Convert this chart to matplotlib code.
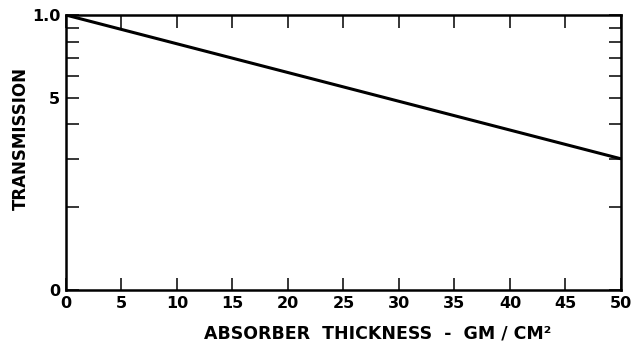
import matplotlib
matplotlib.use("Agg")
import matplotlib.pyplot as plt
from matplotlib.ticker import NullLocator

# Data (straight line on a log transmission axis)
thickness = [0, 50]
transmission = [1.0, 0.3]

x_ticks = [0, 5, 10, 15, 20, 25, 30, 35, 40, 45, 50]
x_labels = ["0", "5", "10", "15", "20", "25", "30", "35", "40", "45", "50"]
y_ticks = [0.1, 0.2, 0.3, 0.4, 0.5, 0.6, 0.7, 0.8, 0.9, 1.0]
y_labels = ["0", "", "", "", "5", "", "", "", "", "1.0"]

plt.rcParams['font.family'] = ['DejaVu Sans']
plt.rcParams['font.weight'] = 'bold'

fig = plt.figure(figsize=(6.33, 3.49), dpi=100)
ax = fig.add_axes([0.104, 0.169, 0.877, 0.788])

ax.plot(thickness, transmission, color='black', linewidth=2.2, solid_capstyle='butt')

ax.set_yscale('log')
ax.set_xlim(0, 50)
ax.set_ylim(0.1, 1.0)

ax.set_xticks(x_ticks)
ax.set_xticklabels(x_labels, fontsize=11.5, fontweight='bold')
ax.set_yticks(y_ticks)
ax.set_yticklabels(y_labels, fontsize=11.5, fontweight='bold')
ax.yaxis.set_minor_locator(NullLocator())

ax.tick_params(axis='both', which='major', direction='in', length=9, width=1.1,
               top=True, right=True, color='black', pad=4)

for s in ax.spines.values():
    s.set_linewidth(1.8)
    s.set_color('black')

ax.set_xlabel("ABSORBER  THICKNESS  -  GM / CM²", fontsize=12.5, fontweight='bold')
ax.xaxis.set_label_coords(0.562, -0.125)
ax.set_ylabel("TRANSMISSION", fontsize=12, fontweight='bold')
ax.yaxis.set_label_coords(-0.064, 0.55)

fig.savefig("out.png", dpi=100, facecolor='white')
